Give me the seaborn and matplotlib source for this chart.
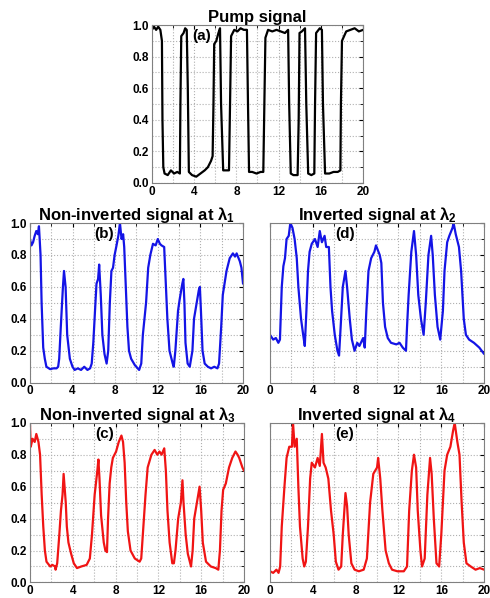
import matplotlib
matplotlib.use("Agg")
import matplotlib.pyplot as plt
import seaborn as sns
import numpy as np

# Pump signal (a)
pump_t = [0, 0.2, 0.4, 0.6, 0.8, 0.95, 1.0, 1.08, 1.2, 1.5, 1.8, 2.1, 2.4, 2.65, 2.7, 2.78, 3.0, 3.15, 3.3, 3.4, 3.5,
          3.8, 4.2, 4.6, 5.0, 5.3, 5.6, 5.75, 5.83, 5.9, 6.1, 6.3, 6.45, 6.55, 6.75, 7.0, 7.3, 7.4, 7.5, 7.8, 8.1, 8.4,
          8.7, 9.0, 9.1, 9.2, 9.5, 9.9, 10.3, 10.55, 10.65, 10.75, 11.0, 11.4, 11.8, 12.2, 12.6, 12.9, 13.0, 13.15,
          13.4, 13.8, 13.9, 13.98, 14.2, 14.5, 14.62, 14.8, 15.1, 15.38, 15.45, 15.55, 15.9, 16.1, 16.2, 16.4, 16.8,
          17.2, 17.6, 17.85, 17.9, 18.0, 18.4, 18.8, 19.2, 19.6, 20]
pump_v = [0.97, 0.99, 0.97, 0.99, 0.97, 0.9, 0.4, 0.1, 0.06, 0.05, 0.08, 0.06, 0.07, 0.06, 0.5, 0.93, 0.95, 0.98, 0.97,
          0.6, 0.07, 0.05, 0.04, 0.06, 0.08, 0.1, 0.14, 0.17, 0.5, 0.88, 0.9, 0.95, 0.98, 0.5, 0.08, 0.08, 0.08, 0.5,
          0.93, 0.97, 0.96, 0.98, 0.97, 0.97, 0.5, 0.07, 0.07, 0.06, 0.07, 0.07, 0.5, 0.92, 0.97, 0.96, 0.97, 0.96,
          0.95, 0.97, 0.5, 0.06, 0.05, 0.05, 0.4, 0.95, 0.96, 0.98, 0.5, 0.06, 0.05, 0.06, 0.5, 0.95, 0.98, 0.97,
          0.5, 0.06, 0.06, 0.07, 0.07, 0.08, 0.5, 0.9, 0.96, 0.97, 0.98, 0.96, 0.97]

# Non-inverted signal at lambda1 (b)
lam1_t = [0, 0.15, 0.3, 0.45, 0.6, 0.75, 0.85, 1.0, 1.1, 1.25, 1.4, 1.55, 1.9, 2.2, 2.5, 2.65, 2.75, 2.9, 3.1, 3.2,
          3.35, 3.5, 3.75, 4.0, 4.2, 4.5, 4.8, 5.1, 5.4, 5.65, 5.8, 5.95, 6.15, 6.25, 6.4, 6.5, 6.65, 6.8, 7.0, 7.2,
          7.35, 7.5, 7.65, 7.8, 7.95, 8.1, 8.3, 8.45, 8.6, 8.75, 8.85, 9.0, 9.15, 9.3, 9.5, 9.85, 10.25, 10.45, 10.6,
          10.9, 11.1, 11.3, 11.55, 11.8, 12.0, 12.2, 12.35, 12.6, 12.7, 12.9, 13.1, 13.4, 13.5, 13.65, 13.9, 14.05,
          14.3, 14.4, 14.5, 14.6, 14.8, 15.0, 15.25, 15.4, 15.6, 15.85, 15.95, 16.05, 16.2, 16.4, 16.7, 17.0, 17.3,
          17.6, 17.75, 17.95, 18.1, 18.45, 18.75, 19.05, 19.25, 19.4, 19.7, 19.85, 20]
lam1_v = [0.9, 0.86, 0.88, 0.92, 0.95, 0.93, 0.98, 0.8, 0.5, 0.22, 0.15, 0.1, 0.085, 0.09, 0.09, 0.1, 0.15, 0.35,
          0.6, 0.7, 0.6, 0.3, 0.15, 0.1, 0.08, 0.09, 0.08, 0.1, 0.08, 0.09, 0.12, 0.25, 0.5, 0.62, 0.65, 0.74, 0.55,
          0.3, 0.18, 0.12, 0.2, 0.5, 0.7, 0.72, 0.8, 0.85, 0.92, 1.0, 0.9, 0.93, 0.85, 0.6, 0.35, 0.2, 0.15, 0.11,
          0.08, 0.12, 0.3, 0.5, 0.72, 0.8, 0.87, 0.86, 0.9, 0.87, 0.86, 0.85, 0.7, 0.4, 0.2, 0.12, 0.1, 0.2, 0.45,
          0.52, 0.62, 0.65, 0.5, 0.25, 0.12, 0.1, 0.2, 0.4, 0.48, 0.58, 0.6, 0.45, 0.2, 0.12, 0.1, 0.09, 0.1, 0.09,
          0.12, 0.35, 0.55, 0.7, 0.78, 0.81, 0.79, 0.81, 0.76, 0.72, 0.62]

# Non-inverted signal at lambda3 (c)
lam3_t = [0, 0.08, 0.25, 0.45, 0.6, 0.8, 0.95, 1.1, 1.25, 1.4, 1.55, 1.9, 2.1, 2.35, 2.4, 2.55, 2.75, 2.9, 3.05,
          3.15, 3.35, 3.45, 3.6, 3.85, 4.1, 4.4, 4.8, 5.3, 5.6, 5.8, 6.05, 6.3, 6.4, 6.5, 6.65, 6.9, 7.05, 7.2, 7.3,
          7.45, 7.6, 7.75, 8.05, 8.3, 8.55, 8.7, 8.85, 9.0, 9.15, 9.4, 9.8, 10.25, 10.4, 10.55, 10.8, 11.0, 11.35,
          11.65, 11.9, 12.1, 12.3, 12.55, 12.7, 12.85, 13.05, 13.3, 13.45, 13.6, 13.85, 14.1, 14.25, 14.35, 14.55,
          14.75, 15.05, 15.2, 15.35, 15.6, 15.85, 16.0, 16.15, 16.45, 16.9, 17.35, 17.6, 17.75, 17.9, 18.05, 18.3,
          18.6, 18.9, 19.2, 19.4, 19.55, 19.85, 20]
lam3_v = [1.0, 0.85, 0.9, 0.88, 0.93, 0.88, 0.8, 0.55, 0.35, 0.2, 0.13, 0.1, 0.11, 0.1, 0.08, 0.12, 0.3, 0.45,
          0.55, 0.68, 0.5, 0.35, 0.25, 0.18, 0.12, 0.09, 0.1, 0.11, 0.15, 0.3, 0.55, 0.7, 0.77, 0.65, 0.42, 0.25,
          0.2, 0.19, 0.4, 0.62, 0.72, 0.78, 0.82, 0.88, 0.92, 0.88, 0.75, 0.5, 0.32, 0.2, 0.15, 0.13, 0.15, 0.3,
          0.55, 0.72, 0.8, 0.83, 0.8, 0.82, 0.8, 0.84, 0.7, 0.45, 0.25, 0.12, 0.12, 0.2, 0.4, 0.5, 0.64, 0.5, 0.3,
          0.18, 0.1, 0.2, 0.4, 0.5, 0.6, 0.45, 0.25, 0.13, 0.1, 0.09, 0.08, 0.2, 0.45, 0.58, 0.62, 0.72, 0.78,
          0.82, 0.8, 0.78, 0.72, 0.7]

# Inverted signal at lambda2 (d)
lam2_t = [0, 0.3, 0.55, 0.78, 0.93, 1.1, 1.25, 1.4, 1.55, 1.75, 1.9, 2.1, 2.3, 2.5, 2.65, 2.9, 3.1, 3.25, 3.4,
          3.55, 3.7, 3.9, 4.2, 4.45, 4.65, 4.85, 5.1, 5.25, 5.5, 5.65, 5.8, 6.05, 6.3, 6.45, 6.6, 6.8, 7.05, 7.2,
          7.45, 7.65, 7.9, 8.15, 8.35, 8.7, 8.85, 9.0, 9.2, 9.45, 9.75, 9.9, 10.25, 10.4, 10.55, 10.75, 11.0, 11.3,
          11.8, 12.1, 12.4, 12.7, 12.8, 12.95, 13.2, 13.45, 13.65, 13.85, 14.1, 14.35, 14.55, 14.8, 15.05, 15.2,
          15.4, 15.65, 15.9, 16.15, 16.3, 16.55, 16.75, 17.05, 17.15, 17.35, 17.65, 17.85, 18.1, 18.3, 18.6, 19.05,
          19.55, 20]
lam2_v = [0.3, 0.27, 0.28, 0.25, 0.27, 0.6, 0.73, 0.78, 0.9, 0.92, 1.0, 0.97, 0.9, 0.78, 0.6, 0.4, 0.3, 0.23,
          0.45, 0.7, 0.82, 0.87, 0.9, 0.85, 0.95, 0.88, 0.92, 0.85, 0.85, 0.6, 0.45, 0.3, 0.2, 0.17, 0.35, 0.6, 0.7,
          0.6, 0.4, 0.27, 0.2, 0.25, 0.23, 0.28, 0.22, 0.45, 0.7, 0.78, 0.82, 0.86, 0.8, 0.75, 0.5, 0.35, 0.28,
          0.25, 0.24, 0.25, 0.22, 0.2, 0.35, 0.55, 0.82, 0.95, 0.8, 0.55, 0.4, 0.3, 0.5, 0.8, 0.92, 0.8, 0.55, 0.35,
          0.27, 0.45, 0.7, 0.88, 0.92, 0.97, 1.0, 0.93, 0.85, 0.7, 0.4, 0.3, 0.27, 0.25, 0.22, 0.18]

# Inverted signal at lambda4 (e)
lam4_t = [0, 0.3, 0.6, 0.8, 0.95, 1.1, 1.35, 1.55, 1.8, 2.05, 2.15, 2.3, 2.5, 2.65, 2.8, 3.05, 3.2, 3.35, 3.55,
          3.75, 3.9, 4.2, 4.45, 4.65, 4.85, 5.0, 5.2, 5.45, 5.7, 5.95, 6.15, 6.4, 6.65, 6.8, 7.05, 7.2, 7.35, 7.6,
          7.9, 8.3, 8.75, 9.05, 9.35, 9.65, 10.0, 10.1, 10.3, 10.5, 10.8, 11.1, 11.4, 11.9, 12.5, 12.8, 13.0, 13.25,
          13.45, 13.65, 13.8, 14.05, 14.2, 14.45, 14.7, 14.95, 15.1, 15.3, 15.55, 15.8, 16.0, 16.3, 16.55, 16.85,
          17.1, 17.25, 17.5, 17.7, 17.9, 18.1, 18.35, 18.75, 19.2, 19.6, 20]
lam4_v = [0.07, 0.06, 0.08, 0.06, 0.1, 0.35, 0.6, 0.78, 0.85, 0.85, 1.0, 0.85, 0.9, 0.6, 0.35, 0.15, 0.1, 0.13,
          0.35, 0.65, 0.75, 0.72, 0.78, 0.73, 0.93, 0.75, 0.72, 0.65, 0.45, 0.3, 0.13, 0.08, 0.1, 0.3, 0.56, 0.48,
          0.3, 0.12, 0.08, 0.07, 0.08, 0.15, 0.5, 0.68, 0.72, 0.78, 0.65, 0.45, 0.2, 0.12, 0.08, 0.07, 0.07, 0.1,
          0.45, 0.7, 0.8, 0.72, 0.45, 0.2, 0.1, 0.15, 0.55, 0.78, 0.68, 0.4, 0.12, 0.1, 0.3, 0.7, 0.8, 0.85, 0.95,
          1.0, 0.88, 0.8, 0.5, 0.25, 0.12, 0.1, 0.08, 0.09, 0.08]

sns.set_style("white")
plt.rcParams['font.family'] = ['Liberation Sans', 'DejaVu Sans']
plt.rcParams['font.weight'] = 'bold'
plt.rcParams['text.color'] = 'black'
plt.rcParams['xtick.color'] = 'black'
plt.rcParams['ytick.color'] = 'black'
plt.rcParams['mathtext.fontset'] = 'custom'
plt.rcParams['mathtext.rm'] = 'Liberation Sans:bold'
plt.rcParams['mathtext.bf'] = 'Liberation Sans:bold'
plt.rcParams['mathtext.it'] = 'Liberation Sans:bold'

fig = plt.figure(figsize=(4.9, 5.98), dpi=100)

panels = [
    ([0.310, 0.694, 0.431, 0.264], pump_t, pump_v, 'black', 'Pump signal', '(a)', 0.235, True),
    ([0.061, 0.360, 0.435, 0.267], lam1_t, lam1_v, '#1414e6', r'Non-inverted signal at λ$_{1}$', '(b)', 0.35, True),
    ([0.551, 0.360, 0.437, 0.267], lam2_t, lam2_v, '#1414e6', r'Inverted signal at λ$_{2}$', '(d)', 0.35, False),
    ([0.061, 0.026, 0.437, 0.267], lam3_t, lam3_v, '#f01414', r'Non-inverted signal at λ$_{3}$', '(c)', 0.35, True),
    ([0.551, 0.026, 0.437, 0.267], lam4_t, lam4_v, '#f01414', r'Inverted signal at λ$_{4}$', '(e)', 0.35, False),
]

for rect, t, v, color, title, label, lx, show_y in panels:
    ax = fig.add_axes(rect)
    sns.lineplot(x=t, y=v, ax=ax, color=color, linewidth=1.6, sort=False, estimator=None)
    ax.set_xlim(0, 20)
    ax.set_ylim(0, 1.0)
    ax.set_xticks(np.arange(0, 21, 4))
    ax.set_xticks(np.arange(0, 21, 2), minor=True)
    ax.set_yticks(np.arange(0, 1.01, 0.2))
    ax.set_yticks(np.arange(0, 1.01, 0.1), minor=True)
    ax.grid(True, which='both', color='#b0b0b0', linestyle=':', linewidth=0.8)
    ax.tick_params(which='both', direction='in', top=True, right=True, length=3, labelsize=8.5, pad=2,
                   colors='black')
    ax.tick_params(which='minor', length=2)
    if show_y:
        ax.set_yticklabels(['0.0', '0.2', '0.4', '0.6', '0.8', '1.0'], fontweight='bold')
    else:
        ax.set_yticklabels([])
    ax.set_xticklabels(['0', '4', '8', '12', '16', '20'], fontweight='bold')
    for s in ax.spines.values():
        s.set_color('#808080')
        s.set_linewidth(0.8)
    ax.set_title(title, fontsize=12, fontweight='bold', pad=2, color='black')
    ax.text(lx, 0.93, label, transform=ax.transAxes, ha='center', va='center',
            fontsize=11, fontweight='bold', color='black')

fig.savefig("out.png", dpi=100)
